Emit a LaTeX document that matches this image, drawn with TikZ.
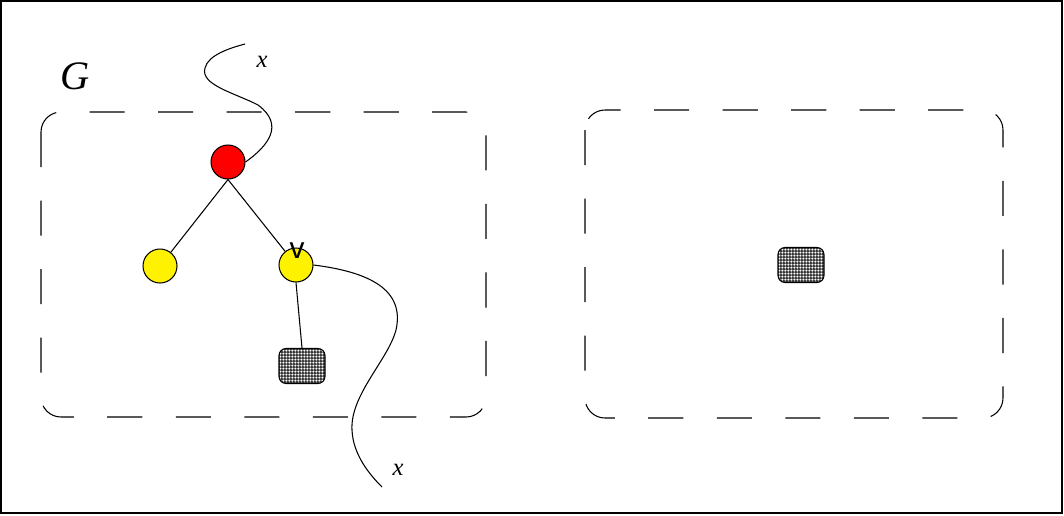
\documentclass[tikz,border=0pt]{standalone}
\usepackage{fontspec}
\setmainfont{Liberation Serif}
\newfontfamily\labelsans{Liberation Sans}
\usepackage{tikz}
\usetikzlibrary{patterns}
\pgfdeclarepatternformonly{finechecker}{\pgfpointorigin}{\pgfqpoint{1.8pt}{1.8pt}}{\pgfqpoint{1.8pt}{1.8pt}}{%
  \pgfpathrectangle{\pgfpointorigin}{\pgfqpoint{1.1pt}{1.8pt}}%
  \pgfpathrectangle{\pgfqpoint{1.1pt}{0pt}}{\pgfqpoint{0.7pt}{1.1pt}}%
  \pgfusepath{fill}}

\begin{document}
\begin{tikzpicture}[x=0.02cm, y=-0.02cm, line width=0.6pt,
      vertex/.style={circle, draw=black, inner sep=0pt, minimum size=0.68cm},
      hatchbox/.style={rectangle, rounded corners=4pt, draw=black, inner sep=0pt,
                       minimum width=0.92cm, minimum height=0.7cm,
                       pattern=finechecker, pattern color=gray!45!black},
      region/.style={draw=black, dash pattern=on 20pt off 19pt, rounded corners=0.4cm}
    ]
    \useasboundingbox (0,0) rectangle (1064,515);
    \draw (1,1) rectangle (1062,513);
    % the two dashed regions
    \draw[region] (41,112) rectangle (486,417);
    \draw[region] (585,110) rectangle (1003,418);
    \node[font=\fontsize{23}{26}\selectfont\itshape] (glabel) at (75,76) {G};
    % tree inside G
    \node[vertex, fill=red]    (root)    at (228,162) {};
    \node[vertex, fill=yellow] (leftkid) at (160,266) {};
    \node[vertex, fill=yellow] (vkid)    at (296,265) {};
    \node[hatchbox] (leafbox) at (302,366) {};
    \node[hatchbox] (farbox)  at (801,265) {};
    \node[font=\labelsans\fontsize{17}{19}\selectfont] (vlabel) at (297,251) {v};
    \draw (root.south) -- (leftkid);
    \draw (root.south) -- (vkid);
    \draw (vkid.south) -- (leafbox.north);
    % the two cuts labelled x
    \coordinate (xtop) at (245,44);
    \coordinate (xbot) at (382,487);
    \draw (root.east) .. controls (268,146) and (285,125) .. (258,105)
          .. controls (235,93) and (200,85) .. (205,68)
          .. controls (208,55) and (230,48) .. (xtop);
    \draw (vkid.east) .. controls (370,272) and (405,290) .. (396,330)
          .. controls (388,360) and (350,395) .. (352,430)
          .. controls (353,455) and (370,475) .. (xbot);
    \node[font=\fontsize{14}{16}\selectfont\itshape] (xtoplabel) at (262,62) {x};
    \node[font=\fontsize{14}{16}\selectfont\itshape] (xbotlabel) at (398,470) {x};
  \end{tikzpicture}
\end{document}
